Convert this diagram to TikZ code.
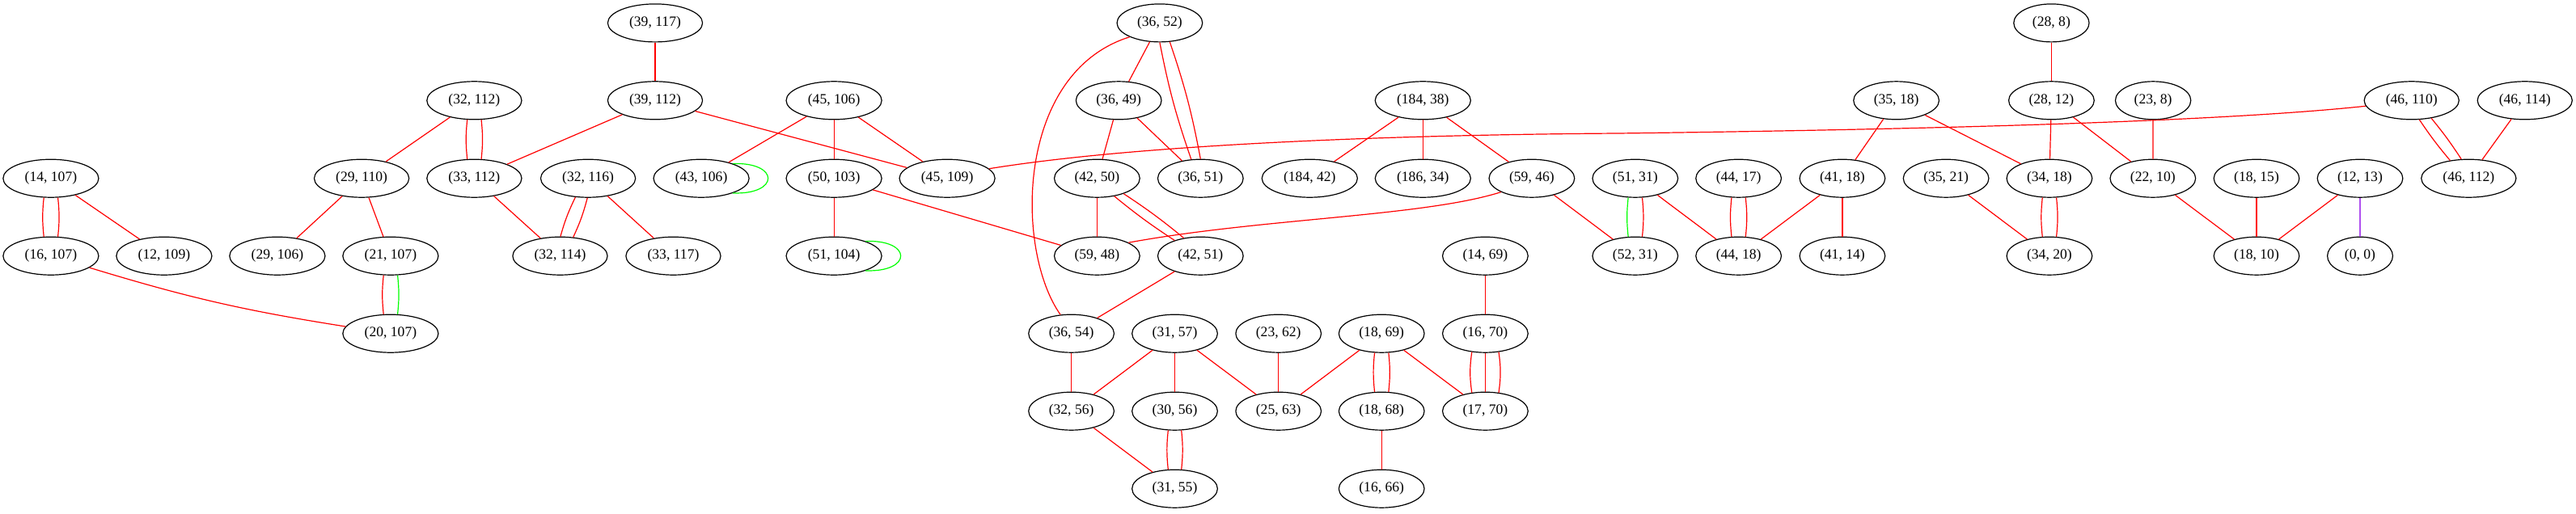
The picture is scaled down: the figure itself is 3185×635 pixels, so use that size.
\documentclass[tikz,border=0pt]{standalone}
\usepackage{fontspec}
\setmainfont{Liberation Serif}
\usetikzlibrary{shapes.geometric}
\definecolor{gvred}{RGB}{255,0,0}
\definecolor{gvgreen}{RGB}{0,255,0}
\definecolor{gvpurple}{RGB}{176,80,240}
\begin{document}
\begin{tikzpicture}[x=1pt,y=1pt,
  nd/.style={draw, ellipse, line width=1.2pt, inner xsep=9.5pt, inner ysep=2pt, minimum height=47pt, font=\fontsize{17.6}{20}\selectfont},
  re/.style={draw=gvred, line width=1.2pt},
  ge/.style={draw=gvgreen, line width=1.2pt},
  pe/.style={draw=gvpurple, line width=1.4pt}]
\useasboundingbox (0,0) rectangle (3185,-635);
% row 1
\node[nd] (n39_117) at (810,-28.4) {(39, 117)};
\node[nd] (n36_52) at (1433.9,-28.4) {(36, 52)};
\node[nd] (n28_8) at (2536.4,-28.4) {(28, 8)};
% row 2
\node[nd] (n32_112) at (586.4,-124.3) {(32, 112)};
\node[nd] (n39_112) at (810,-124.3) {(39, 112)};
\node[nd] (n45_106) at (1031.1,-124.3) {(45, 106)};
\node[nd] (n36_49) at (1383.2,-124.3) {(36, 49)};
\node[nd] (n184_38) at (1759.3,-124.3) {(184, 38)};
\node[nd] (n35_18) at (2344.6,-124.3) {(35, 18)};
\node[nd] (n28_12) at (2536.4,-124.3) {(28, 12)};
\node[nd] (n23_8) at (2662.1,-124.3) {(23, 8)};
\node[nd] (n46_110) at (2981.7,-124.3) {(46, 110)};
\node[nd] (n46_114) at (3121.7,-124.3) {(46, 114)};
% row 3
\node[nd] (n14_107) at (62.9,-220.7) {(14, 107)};
\node[nd] (n29_110) at (447.1,-220.7) {(29, 110)};
\node[nd] (n33_112) at (586.4,-220.7) {(33, 112)};
\node[nd] (n32_116) at (727.1,-220.7) {(32, 116)};
\node[nd] (n43_106) at (867.1,-220.7) {(43, 106)};
\node[nd] (n50_103) at (1031.1,-220.7) {(50, 103)};
\node[nd] (n45_109) at (1171.1,-220.7) {(45, 109)};
\node[nd] (n42_50) at (1356.4,-220.7) {(42, 50)};
\node[nd] (n36_51) at (1484.3,-220.7) {(36, 51)};
\node[nd] (n184_42) at (1619.3,-220.7) {(184, 42)};
\node[nd] (n186_34) at (1759.3,-220.7) {(186, 34)};
\node[nd] (n59_46) at (1893.9,-220.7) {(59, 46)};
\node[nd] (n51_31) at (2021.8,-220.7) {(51, 31)};
\node[nd] (n44_17) at (2149.6,-220.7) {(44, 17)};
\node[nd] (n41_18) at (2277.9,-220.7) {(41, 18)};
\node[nd] (n35_21) at (2406.1,-220.7) {(35, 21)};
\node[nd] (n34_18) at (2533.9,-220.7) {(34, 18)};
\node[nd] (n22_10) at (2661.8,-220.7) {(22, 10)};
\node[nd] (n18_15) at (2790,-220.7) {(18, 15)};
\node[nd] (n12_13) at (2918,-220.7) {(12, 13)};
\node[nd] (n46_112) at (3052.3,-220.7) {(46, 112)};
% row 4
\node[nd] (n16_107) at (62.9,-316.7) {(16, 107)};
\node[nd] (n12_109) at (202.9,-316.7) {(12, 109)};
\node[nd] (n29_106) at (342.9,-316.7) {(29, 106)};
\node[nd] (n21_107) at (482.9,-316.7) {(21, 107)};
\node[nd] (n32_114) at (692.5,-316.7) {(32, 114)};
\node[nd] (n33_117) at (832.5,-316.7) {(33, 117)};
\node[nd] (n51_104) at (1031.1,-316.7) {(51, 104)};
\node[nd] (n59_48) at (1356.4,-316.7) {(59, 48)};
\node[nd] (n42_51) at (1484.3,-316.7) {(42, 51)};
\node[nd] (n14_69) at (1836.4,-316.7) {(14, 69)};
\node[nd] (n52_31) at (2021.8,-316.7) {(52, 31)};
\node[nd] (n44_18) at (2149.6,-316.7) {(44, 18)};
\node[nd] (n41_14) at (2277.9,-316.7) {(41, 14)};
\node[nd] (n34_20) at (2533.9,-316.7) {(34, 20)};
\node[nd] (n18_10) at (2790,-316.7) {(18, 10)};
\node[nd] (n0_0) at (2918,-316.7) {(0, 0)};
% row 5
\node[nd] (n20_107) at (482.9,-412.7) {(20, 107)};
\node[nd] (n36_54) at (1324.6,-412.7) {(36, 54)};
\node[nd] (n31_57) at (1452.5,-412.7) {(31, 57)};
\node[nd] (n23_62) at (1580.7,-412.7) {(23, 62)};
\node[nd] (n18_69) at (1708.2,-412.7) {(18, 69)};
\node[nd] (n16_70) at (1836.4,-412.7) {(16, 70)};
% row 6
\node[nd] (n32_56) at (1324.6,-508.7) {(32, 56)};
\node[nd] (n30_56) at (1452.5,-508.7) {(30, 56)};
\node[nd] (n25_63) at (1580.7,-508.7) {(25, 63)};
\node[nd] (n18_68) at (1708.2,-508.7) {(18, 68)};
\node[nd] (n17_70) at (1836.4,-508.7) {(17, 70)};
% row 7
\node[nd] (n31_55) at (1452.5,-604.7) {(31, 55)};
\node[nd] (n16_66) at (1708.2,-604.7) {(16, 66)};
% edges
\draw[re] (n14_107.-110) to[bend right=6] (n16_107.110);
\draw[re] (n14_107.-70) to[bend left=6] (n16_107.70);
\draw[re] (n14_107) -- (n12_109);
\draw[re] (n16_107) to[bend right=4] (n20_107);
\draw[re] (n32_112) -- (n29_110);
\draw[re] (n29_110) -- (n29_106);
\draw[re] (n29_110) -- (n21_107);
\draw[re] (n21_107.-110) to[bend right=6] (n20_107.110);
\draw[ge] (n21_107.-70) to[bend left=6] (n20_107.70);
\draw[re] (n32_112.-110) to[bend right=6] (n33_112.110);
\draw[re] (n32_112.-70) to[bend left=6] (n33_112.70);
\draw[re] (n39_117) -- (n39_112);
\draw[re] (n39_112) -- (n33_112);
\draw[re] (n39_112) -- (n45_109);
\draw[re] (n33_112) -- (n32_114);
\draw[re] (n32_116.-124) to[bend right=5] (n32_114.89);
\draw[re] (n32_116.-92) to[bend left=5] (n32_114.55);
\draw[re] (n32_116) -- (n33_117);
\draw[re] (n45_106) -- (n43_106);
\draw[ge] (n43_106.25) .. controls +(58,2) and +(58,-2) .. (n43_106.-25);
\draw[re] (n45_106) -- (n50_103);
\draw[re] (n45_106) -- (n45_109);
\draw[re] (n50_103) -- (n51_104);
\draw[ge] (n51_104.25) .. controls +(58,2) and +(58,-2) .. (n51_104.-25);
\draw[re] (n50_103) -- (n59_48);
\draw[re] (n36_52) -- (n36_49);
\draw[re] (n36_52.-90) to[bend right=4] (n36_51.116);
\draw[re] (n36_52.-62) to[bend left=4] (n36_51.90);
\draw[re] (n36_52.-155) .. controls (1255,-90) and (1255,-310) .. (n36_54.120);
\draw[re] (n36_49) -- (n42_50);
\draw[re] (n36_49) -- (n36_51);
\draw[re] (n46_110.-173) .. controls (2750,-150) and (2400,-160) .. (2000,-165) .. controls (1700,-167) and (1400,-180) .. (n45_109.13);
\draw[re] (n42_50) -- (n59_48);
\draw[re] (n42_50.-46) to[bend right=3] (n42_51.149);
\draw[re] (n42_50.-30) to[bend left=3] (n42_51.133);
\draw[re] (n59_46.-156) .. controls (1760,-268) and (1560,-270) .. (n59_48.23);
\draw[re] (n42_51) -- (n36_54);
\draw[re] (n36_54) -- (n32_56);
\draw[re] (n31_57) -- (n32_56);
\draw[re] (n31_57) -- (n30_56);
\draw[re] (n31_57) -- (n25_63);
\draw[re] (n23_62) -- (n25_63);
\draw[re] (n18_69) -- (n25_63);
\draw[re] (n32_56) -- (n31_55);
\draw[re] (n30_56.-109) to[bend right=6] (n31_55.109);
\draw[re] (n30_56.-71) to[bend left=6] (n31_55.71);
\draw[re] (n184_38) -- (n184_42);
\draw[re] (n184_38) -- (n186_34);
\draw[re] (n184_38) -- (n59_46);
\draw[re] (n59_46) -- (n52_31);
\draw[ge] (n51_31.-110) to[bend right=6] (n52_31.110);
\draw[re] (n51_31.-70) to[bend left=6] (n52_31.70);
\draw[re] (n51_31) -- (n44_18);
\draw[re] (n44_17.-110) to[bend right=6] (n44_18.110);
\draw[re] (n44_17.-70) to[bend left=6] (n44_18.70);
\draw[re] (n41_18) -- (n44_18);
\draw[re] (n14_69) -- (n16_70);
\draw[re] (n18_69.-110) to[bend right=6] (n18_68.110);
\draw[re] (n18_69.-70) to[bend left=6] (n18_68.70);
\draw[re] (n18_69) -- (n17_70);
\draw[re] (n16_70.-126) to[bend right=8] (n17_70.126);
\draw[re] (n16_70) -- (n17_70);
\draw[re] (n16_70.-54) to[bend left=8] (n17_70.54);
\draw[re] (n18_68) -- (n16_66);
\draw[re] (n35_18) -- (n41_18);
\draw[re] (n35_18) -- (n34_18);
\draw[re] (n41_18) -- (n41_14);
\draw[re] (n35_21) -- (n34_20);
\draw[re] (n28_8) -- (n28_12);
\draw[re] (n28_12) -- (n34_18);
\draw[re] (n28_12) -- (n22_10);
\draw[re] (n23_8) -- (n22_10);
\draw[re] (n34_18.-110) to[bend right=6] (n34_20.110);
\draw[re] (n34_18.-70) to[bend left=6] (n34_20.70);
\draw[re] (n22_10) -- (n18_10);
\draw[re] (n46_110.-68) to[bend right=3] (n46_112.136);
\draw[re] (n46_110.-42) to[bend left=3] (n46_112.111);
\draw[re] (n46_114) -- (n46_112);
\draw[re] (n18_15) -- (n18_10);
\draw[re] (n12_13) -- (n18_10);
\draw[pe] (n12_13) -- (n0_0);
\end{tikzpicture}
\end{document}
